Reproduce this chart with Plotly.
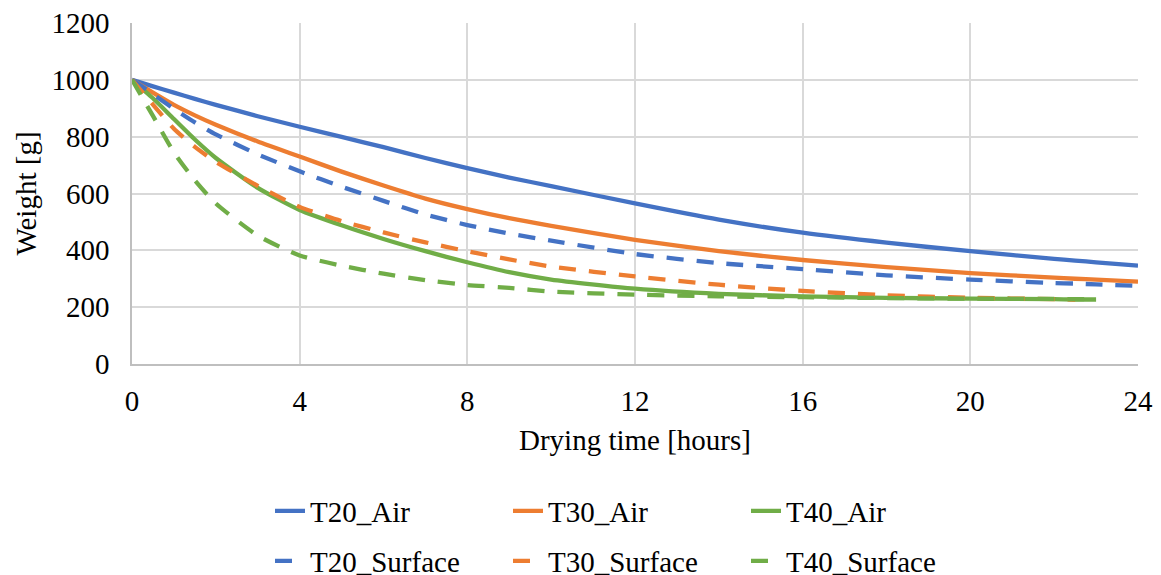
import plotly.graph_objects as go

hours = [0, 0.5, 1, 1.5, 2, 3, 4, 5, 6, 7, 8, 9, 10, 12, 14, 16, 18, 20, 22, 22.5, 23, 24]

T20_Air = [1000, 977, 955, 933, 912, 872, 835, 799, 763, 725, 689, 656, 626, 565, 508, 462, 427, 397, 370, 364, 358, 346]
T30_Air = [1000, 955, 912, 875, 842, 783, 730, 677, 628, 582, 545, 513, 486, 437, 397, 366, 341, 320, 304, 300, 297, 290]
T40_Air = [1000, 935, 862, 790, 725, 620, 542, 488, 440, 397, 358, 323, 297, 265, 247, 238, 233, 230, 228, 227, 227, None]
T20_Surface = [1000, 950, 898, 850, 808, 738, 678, 624, 574, 526, 489, 459, 434, 387, 355, 334, 312, 297, 285, 283, 280, 275]
T30_Surface = [1000, 913, 828, 764, 711, 627, 553, 503, 463, 428, 397, 368, 343, 308, 279, 257, 242, 233, 228, 227, None, None]
T40_Surface = [1000, 873, 745, 646, 565, 452, 382, 346, 318, 295, 278, 268, 255, 244, 238, 235, 232, 230, 229, 228, 228, None]

x_ticks = [0, 4, 8, 12, 16, 20, 24]
y_ticks = [0, 200, 400, 600, 800, 1000, 1200]

BLUE, ORANGE, GREEN = "#4472C4", "#ED7D31", "#70AD47"
FONT = "Liberation Serif, Times New Roman, serif"
LW = 4.3
DASH = "17px,13px"

series = [
    ("T20_Air", T20_Air, BLUE, "solid", "legend"),
    ("T30_Air", T30_Air, ORANGE, "solid", "legend"),
    ("T40_Air", T40_Air, GREEN, "solid", "legend"),
    ("T20_Surface", T20_Surface, BLUE, DASH, "legend2"),
    ("T30_Surface", T30_Surface, ORANGE, DASH, "legend2"),
    ("T40_Surface", T40_Surface, GREEN, DASH, "legend2"),
]

fig = go.Figure()
for name, vals, color, dash, leg in series:
    fig.add_trace(go.Scatter(
        x=hours, y=vals, name=name, mode="lines",
        line=dict(color=color, width=LW, dash=dash, shape="spline", smoothing=0.6),
        legend=leg, connectgaps=False,
    ))

plot_l, plot_r, plot_t, plot_b = 132, 23, 23, 211
plot_w = 1161 - plot_l - plot_r
plot_h = 575 - plot_t - plot_b
leg_x = (270 - plot_l) / plot_w

fig.update_layout(
    width=1161, height=575,
    margin=dict(l=plot_l, r=plot_r, t=plot_t, b=plot_b, autoexpand=False),
    paper_bgcolor="white", plot_bgcolor="white",
    font=dict(family=FONT, size=29, color="black"),
    showlegend=True,
    legend=dict(orientation="h", x=leg_x, xanchor="left",
                y=(plot_h - (511 - plot_t)) / plot_h, yanchor="middle",
                entrywidth=193, entrywidthmode="pixels",
                font=dict(family=FONT, size=29, color="black"),
                bgcolor="rgba(0,0,0,0)", borderwidth=0),
    legend2=dict(orientation="h", x=leg_x, xanchor="left",
                 y=(plot_h - (561 - plot_t)) / plot_h, yanchor="middle",
                 entrywidth=193, entrywidthmode="pixels",
                 font=dict(family=FONT, size=29, color="black"),
                 bgcolor="rgba(0,0,0,0)", borderwidth=0),
    xaxis=dict(
        range=[0, 24], tickmode="array", tickvals=x_ticks,
        ticktext=[str(v) for v in x_ticks],
        showgrid=True, gridcolor="#d9d9d9", gridwidth=1.5,
        showline=True, linecolor="#bfbfbf", linewidth=1.5,
        zeroline=False, ticks="", ticklabelstandoff=10,
        tickfont=dict(family=FONT, size=29, color="black"),
        title=dict(text="Drying time [hours]", standoff=14,
                   font=dict(family=FONT, size=29, color="black")),
        automargin=False,
    ),
    yaxis=dict(
        range=[0, 1200], tickmode="array", tickvals=y_ticks,
        ticktext=[str(v) for v in y_ticks],
        showgrid=True, gridcolor="#d9d9d9", gridwidth=1.5,
        showline=True, linecolor="#bfbfbf", linewidth=1.5,
        zeroline=False, ticks="", ticklabelstandoff=15,
        tickfont=dict(family=FONT, size=29, color="black"),
        title=dict(text="Weight [g]", standoff=6,
                   font=dict(family=FONT, size=29, color="black")),
        automargin=False,
    ),
)

fig.write_html(
    "out.html",
    config={"displayModeBar": False},
    post_script="document.body.style.margin='0';document.body.style.overflow='hidden';",
)
